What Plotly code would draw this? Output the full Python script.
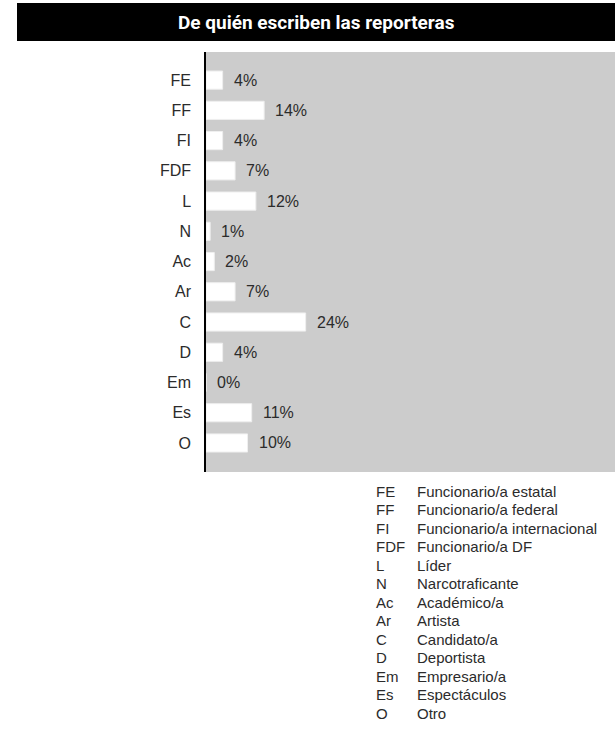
import plotly.graph_objects as go

# Categories (abbreviations), shares in percent and their full names
categories = ["FE", "FF", "FI", "FDF", "L", "N", "Ac", "Ar", "C", "D", "Em", "Es", "O"]
values = [4, 14, 4, 7, 12, 1, 2, 7, 24, 4, 0, 11, 10]
names = [
    "Funcionario/a estatal",
    "Funcionario/a federal",
    "Funcionario/a internacional",
    "Funcionario/a DF",
    "Líder",
    "Narcotraficante",
    "Académico/a",
    "Artista",
    "Candidato/a",
    "Deportista",
    "Empresario/a",
    "Espectáculos",
    "Otro",
]
title_text = "De quién escriben las reporteras"

W, H = 615, 729
FONT = "Liberation Sans, Arial, sans-serif"
TEXT = "#2b2b2b"

fig = go.Figure()
fig.add_trace(
    go.Bar(
        x=values,
        y=categories,
        orientation="h",
        width=0.6,
        marker=dict(color="white", line=dict(color="#efefef", width=1)),
        hoverinfo="skip",
    )
)

# value labels just past the end of each bar
for cat, v in zip(categories, values):
    fig.add_annotation(
        x=v, y=cat, xref="x", yref="y",
        text=f"{v}%", showarrow=False,
        xanchor="left", yanchor="middle", xshift=9,
        font=dict(family=FONT, size=16, color=TEXT),
    )

# black title band
fig.add_shape(
    type="rect", xref="paper", yref="paper",
    x0=17 / W, x1=1, y0=1 - 41 / H, y1=1 - 3 / H,
    fillcolor="black", line=dict(width=0), layer="above",
)
fig.add_annotation(
    x=(17 + W) / 2 / W, y=1 - 22 / H, xref="paper", yref="paper",
    text=f"<b>{title_text}</b>", showarrow=False,
    xanchor="center", yanchor="middle",
    font=dict(family="Roboto, sans-serif", size=19, color="white"),
)

# key of abbreviations below the chart
row0, step = 491, 18.5
for i, (ab, nm) in enumerate(zip(categories, names)):
    yy = 1 - (row0 + i * step) / H
    fig.add_annotation(
        x=374 / W, y=yy, xref="paper", yref="paper", text=ab,
        showarrow=False, xanchor="left", yanchor="middle",
        font=dict(family=FONT, size=15, color=TEXT),
    )
    fig.add_annotation(
        x=415 / W, y=yy, xref="paper", yref="paper", text=nm,
        showarrow=False, xanchor="left", yanchor="middle",
        font=dict(family=FONT, size=15, color=TEXT),
    )

fig.update_layout(
    width=W, height=H,
    margin=dict(l=0, r=0, t=0, b=0),
    paper_bgcolor="white",
    plot_bgcolor="#cccccc",
    showlegend=False,
    xaxis=dict(
        domain=[206 / W, 1],
        range=[0, 98.5],
        showgrid=False, zeroline=False, showticklabels=False, showline=False,
    ),
    yaxis=dict(
        domain=[1 - 472 / H, 1 - 52 / H],
        type="category",
        categoryorder="array", categoryarray=categories,
        range=[12.96, -0.93],
        showgrid=False, zeroline=False,
        showline=True, linecolor="black", linewidth=1.5,
        ticks="", ticklabelstandoff=10,
        tickfont=dict(family=FONT, size=16, color=TEXT),
    ),
)

fig.write_html("out.html")
